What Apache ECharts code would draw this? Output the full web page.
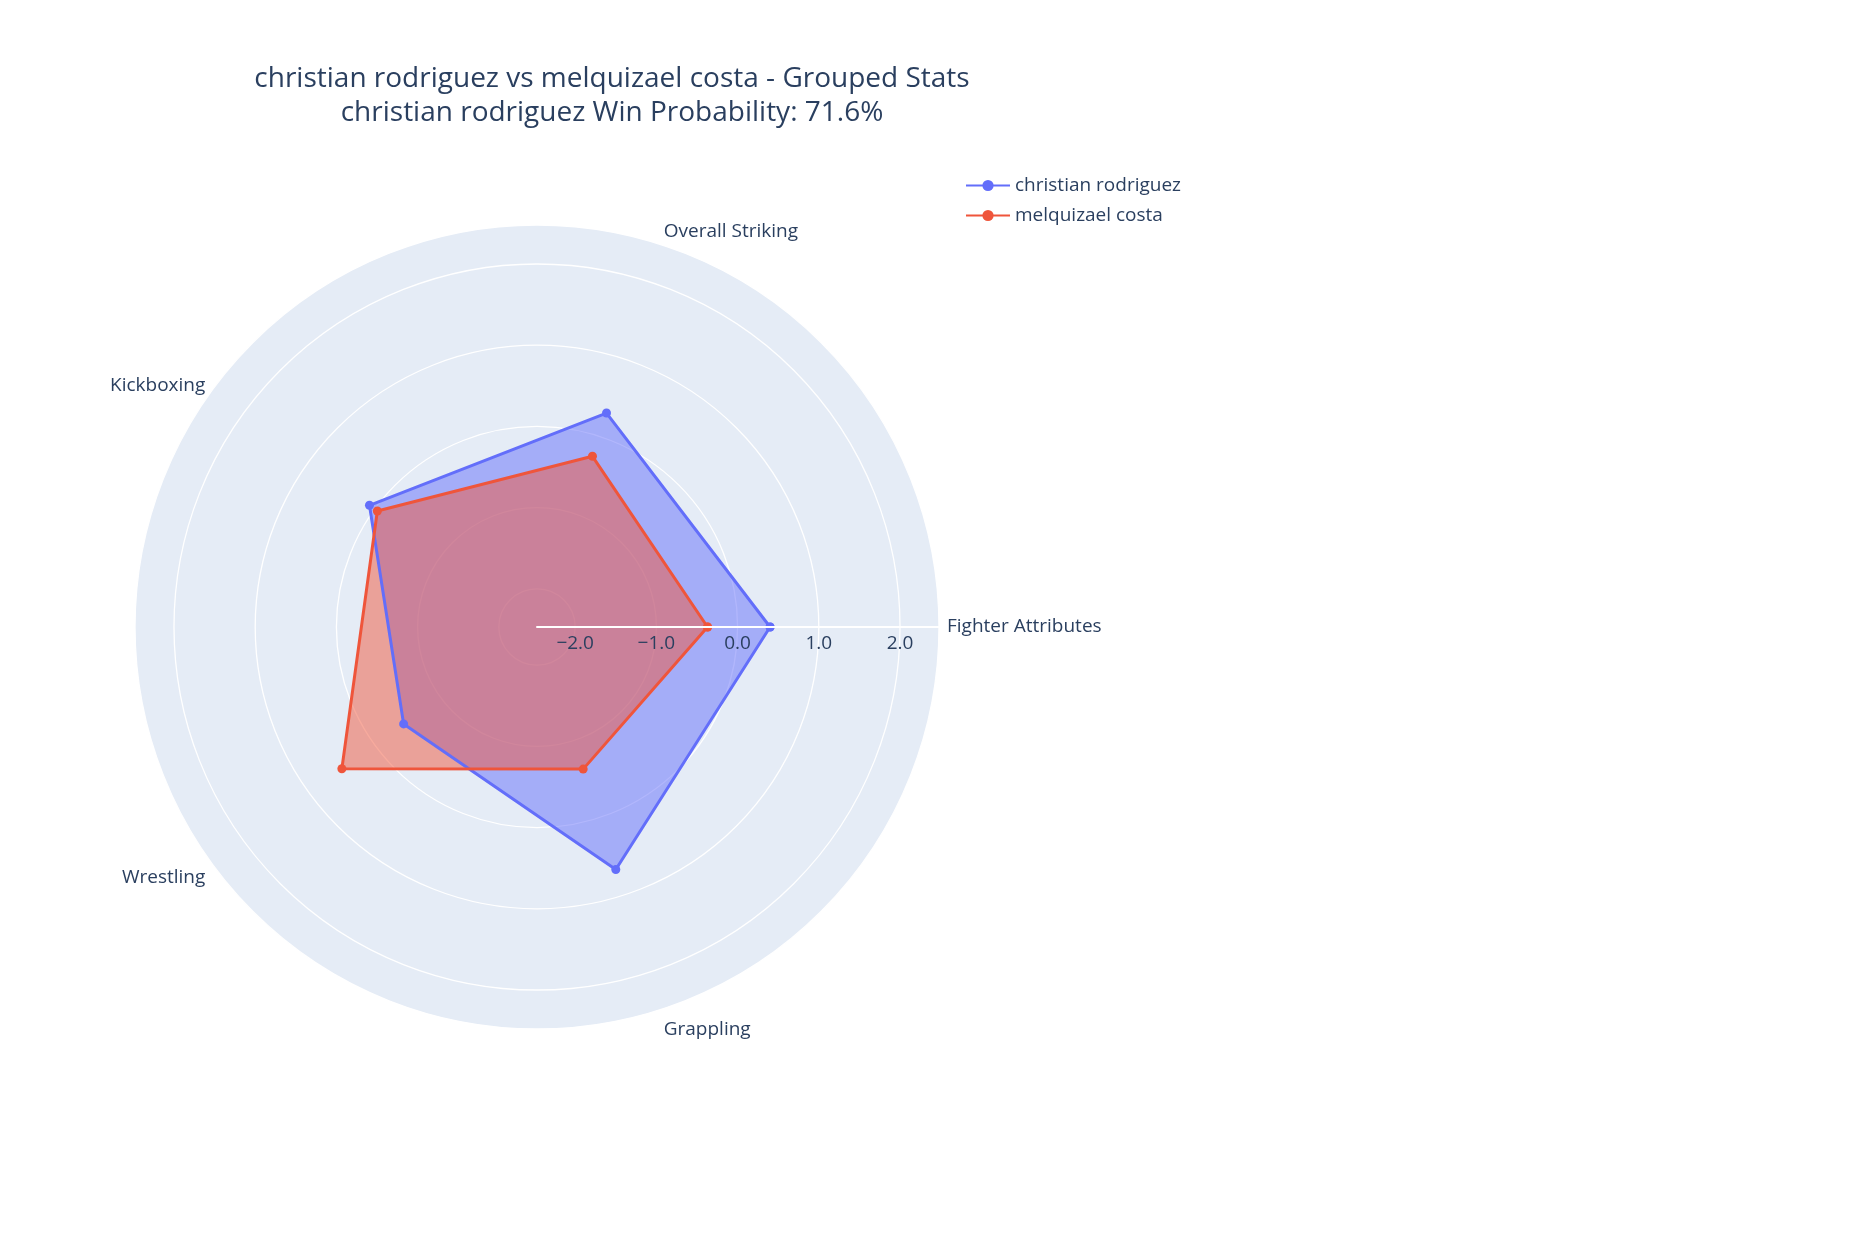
<!DOCTYPE html>
<html><head><meta charset="utf-8">
<script src="https://cdn.jsdelivr.net/npm/echarts@6/dist/echarts.min.js"></script>
<style>html,body{margin:0;padding:0;background:#fff}#c{width:1858px;height:1260px}</style>
</head><body><div id="c"></div>
<script>
const categories = ['Fighter Attributes', 'Overall Striking', 'Kickboxing', 'Wrestling', 'Grappling'];
const christianValues = [0.40, 0.30, 0.08, -0.44, 0.67];
const melquizaelValues = [-0.37, -0.26, -0.04, 0.50, -0.63];
const seriesNames = ['christian rodriguez', 'melquizael costa'];
const titleLines = ['christian rodriguez vs melquizael costa - Grouped Stats', 'christian rodriguez Win Probability: 71.6%'];
const radialMin = -2.47;
const radialMax = 2.48;

const FONT = "'Open Sans', verdana, arial, sans-serif";
const TXT = '#2a3f5f';
const CENTER = [537, 627];
const RADIUS = 402;
const step = 360 / categories.length;
function toPolar(vals) {
  const pts = vals.map((v, i) => [v, i * step]);
  pts.push([vals[0], 0]);
  return pts;
}
function fmt(v) {
  const a = Math.abs(v).toFixed(1);
  return (v < -1e-9 ? '\u2212' : '') + a;
}
// per-label line heights nudge each angular label to plotly's placement
const labelLineHeights = [19, 10, 1, 20, 25];
const rich = {};
labelLineHeights.forEach((lh, i) => {
  rich['k' + i] = { fontFamily: FONT, fontSize: 19, color: TXT, lineHeight: lh };
});
function makeSeries(name, vals, color) {
  return {
    name: name, type: 'line', coordinateSystem: 'polar', polarIndex: 0,
    data: toPolar(vals),
    symbol: 'circle', symbolSize: 9, showSymbol: true,
    lineStyle: { color: color, width: 3 },
    itemStyle: { color: color },
    areaStyle: { color: color, opacity: 0.5, origin: 'start' },
    emphasis: { disabled: true },
    silent: true, z: 2
  };
}
const chart = echarts.init(document.getElementById('c'), null, { renderer: 'canvas' });
chart.setOption({
  animation: false,
  backgroundColor: '#fff',
  textStyle: { fontFamily: FONT },
  title: {
    text: titleLines.join('\n'),
    left: 607, top: 57, textAlign: 'center',
    textStyle: { fontFamily: FONT, fontSize: 28, lineHeight: 34, fontWeight: 'normal', color: TXT }
  },
  legend: {
    data: seriesNames,
    orient: 'vertical', left: 960, top: 171,
    itemWidth: 44, itemHeight: 14, itemGap: 11,
    textStyle: { fontFamily: FONT, fontSize: 19, color: TXT },
    selectedMode: false
  },
  polar: [
    { center: CENTER, radius: RADIUS },
    { center: CENTER, radius: RADIUS }
  ],
  angleAxis: [
    {
      polarIndex: 0,
      type: 'value', min: 0, max: 360, interval: step,
      startAngle: 0, clockwise: false,
      axisLine: { show: false },
      axisTick: { show: false },
      axisLabel: {
        margin: 8, fontFamily: FONT, fontSize: 19, color: TXT,
        formatter: v => {
          const i = Math.round(v / step) % categories.length;
          return '{k' + i + '|' + categories[i] + '}';
        },
        rich: rich
      },
      splitLine: { show: true, lineStyle: { color: '#ffffff', width: 1.3 } },
      splitArea: { show: true, areaStyle: { color: ['#E5ECF6'] } }
    },
    {
      polarIndex: 1,
      type: 'value', min: 0, max: 360, interval: step,
      startAngle: 0, clockwise: false,
      show: false
    }
  ],
  radiusAxis: [
    {
      polarIndex: 0,
      type: 'value', min: radialMin, max: radialMax, splitNumber: 5,
      axisLine: { show: false },
      axisTick: { show: false },
      axisLabel: { show: false },
      splitLine: { show: true, lineStyle: { color: '#ffffff', width: 1.3 } },
      z: 1
    },
    {
      polarIndex: 1,
      type: 'value', min: radialMin, max: radialMax, splitNumber: 5,
      axisLine: { show: true, lineStyle: { color: '#ffffff', width: 2 } },
      axisTick: { show: false },
      axisLabel: {
        margin: -7, verticalAlign: 'top', fontFamily: FONT, fontSize: 19, color: TXT,
        showMinLabel: false, showMaxLabel: false,
        formatter: fmt
      },
      splitLine: { show: false },
      z: 5
    }
  ],
  series: [
    makeSeries(seriesNames[0], christianValues, '#636efa'),
    makeSeries(seriesNames[1], melquizaelValues, '#EF553B')
  ]
});
</script></body></html>
